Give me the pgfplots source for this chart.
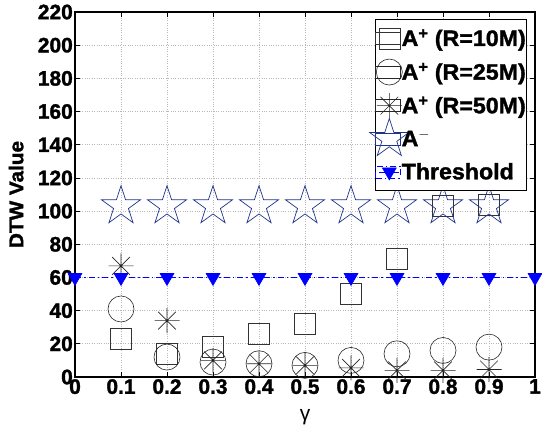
\documentclass[border=0pt]{standalone}
\usepackage{fontspec}
\setmainfont[BoldFeatures={FakeBold=1.5, FakeStretch=1.04}]{Liberation Sans}
\newfontface\tickface[FakeBold=1.5]{Liberation Sans Bold}
\newcommand\tf{\tickface\fontsize{21}{23}\selectfont}
\usepackage{pgfplots}
\pgfplotsset{compat=1.18}
\definecolor{starblue}{rgb}{0.12,0.2,0.55}
\definecolor{gridgray}{rgb}{0.72,0.72,0.72}
\pgfdeclareplotmark{mstar}{%
  \pgfpathmoveto{\pgfqpoint{-\pgfplotmarksize}{0pt}}\pgfpathlineto{\pgfqpoint{\pgfplotmarksize}{0pt}}%
  \pgfpathmoveto{\pgfqpoint{0pt}{-\pgfplotmarksize}}\pgfpathlineto{\pgfqpoint{0pt}{\pgfplotmarksize}}%
  \pgfpathmoveto{\pgfqpoint{-0.707\pgfplotmarksize}{-0.707\pgfplotmarksize}}\pgfpathlineto{\pgfqpoint{0.707\pgfplotmarksize}{0.707\pgfplotmarksize}}%
  \pgfpathmoveto{\pgfqpoint{-0.707\pgfplotmarksize}{0.707\pgfplotmarksize}}\pgfpathlineto{\pgfqpoint{0.707\pgfplotmarksize}{-0.707\pgfplotmarksize}}%
  \pgfusepathqstroke}
\pgfdeclareplotmark{pstar}{%
  \pgfpathmoveto{\pgfqpointpolar{90}{\pgfplotmarksize}}%
  \pgfpathlineto{\pgfqpointpolar{126}{0.382\pgfplotmarksize}}%
  \pgfpathlineto{\pgfqpointpolar{162}{\pgfplotmarksize}}%
  \pgfpathlineto{\pgfqpointpolar{198}{0.382\pgfplotmarksize}}%
  \pgfpathlineto{\pgfqpointpolar{234}{\pgfplotmarksize}}%
  \pgfpathlineto{\pgfqpointpolar{270}{0.382\pgfplotmarksize}}%
  \pgfpathlineto{\pgfqpointpolar{306}{\pgfplotmarksize}}%
  \pgfpathlineto{\pgfqpointpolar{342}{0.382\pgfplotmarksize}}%
  \pgfpathlineto{\pgfqpointpolar{18}{\pgfplotmarksize}}%
  \pgfpathlineto{\pgfqpointpolar{54}{0.382\pgfplotmarksize}}%
  \pgfpathclose
  \pgfusepathqstroke}
\begin{document}
\begin{tikzpicture}
\begin{axis}[
  scale only axis, width=460bp, height=365bp,
  xmin=0, xmax=1, ymin=0, ymax=220,
  xtick={0,0.1,0.2,0.3,0.4,0.5,0.6,0.7,0.8,0.9,1},
  xticklabels={\mbox{\tf 0},\mbox{\tf 0.1},\mbox{\tf 0.2},\mbox{\tf 0.3},\mbox{\tf 0.4},\mbox{\tf 0.5},\mbox{\tf 0.6},\mbox{\tf 0.7},\mbox{\tf 0.8},\mbox{\tf 0.9},\mbox{\tf 1}},
  ytick={0,20,40,60,80,100,120,140,160,180,200,220},
  yticklabels={\mbox{\tf 0},\mbox{\tf 20},\mbox{\tf 40},\mbox{\tf 60},\mbox{\tf 80},\mbox{\tf 100},\mbox{\tf 120},\mbox{\tf 140},\mbox{\tf 160},\mbox{\tf 180},\mbox{\tf 200},\mbox{\tf 220}},
  /pgf/number format/assume math mode=true,
  tick label style={font=\tf},
  x tick label style={inner sep=1bp, yshift=-1bp},
  y tick label style={inner sep=2bp},
  tick align=inside, major tick length=5bp,
  tick style={black, line width=0.8bp},
  axis line style={line width=1.2bp},
  grid=major, grid style={gridgray, dotted, line width=0.7bp},
  xlabel={γ}, xlabel style={font=\fontsize{21}{23}\selectfont, at={(axis description cs:0.5,0)}, anchor=north, yshift=-29bp},
  ylabel={DTW Value}, ylabel style={font=\fontsize{20}{22}\selectfont\bfseries, at={(axis description cs:-0.128,0.5)}, anchor=center},
  legend style={at={(rel axis cs:0.983,0.981)}, anchor=north east, draw=black, line width=0.8bp,
    font=\fontsize{22.4}{24}\selectfont\bfseries, inner xsep=0bp, inner ysep=8bp,
    row sep=11.5bp, /tikz/every even column/.append style={column sep=0bp},
    nodes={inner xsep=1bp}},
  legend image code/.code={%
    \path (0bp,-6bp) rectangle (25bp,6bp);
    \draw[#1, overlay, mark indices={2}] plot coordinates {(4bp,0bp) (14bp,0bp) (24bp,0bp)};},
  legend cell align=left,
  clip=false,
]
\addplot[only marks, mark=square, mark size=10.5bp, draw=black!80, line width=0.6bp] coordinates {
(0.1,23) (0.2,14) (0.3,18) (0.4,26) (0.5,32) (0.6,50) (0.7,71) (0.8,103) (0.9,104)};
\addlegendentry{A\textsuperscript{+} (R=10M)}
\addplot[only marks, mark=o, mark size=13bp, draw=black!85, line width=0.6bp] coordinates {
(0.1,41) (0.2,12) (0.3,9) (0.4,8) (0.5,7) (0.6,10) (0.7,14) (0.8,16) (0.9,18)};
\addlegendentry{A\textsuperscript{+} (R=25M)}
\addplot[only marks, mark=mstar, mark size=12.5bp, draw=black!85, line width=0.6bp] coordinates {
(0.1,67) (0.2,34) (0.3,10) (0.4,8) (0.5,7) (0.6,5.5) (0.7,4) (0.8,4) (0.9,4.5)};
\addlegendentry{A\textsuperscript{+} (R=50M)}
\addplot[only marks, mark=pstar, mark size=20.5bp, draw=starblue, line width=0.7bp] coordinates {
(0.1,103) (0.2,103) (0.3,103) (0.4,103) (0.5,103) (0.6,103) (0.7,103) (0.8,103) (0.9,103)};
\addlegendentry{A\textsuperscript{$-$}}
\addplot[blue, dash pattern=on 6bp off 3bp on 1.5bp off 3bp, line width=0.6bp, mark=triangle*, mark size=8bp, mark options={solid, fill=blue, rotate=180}] coordinates {
(0,60) (0.1,60) (0.2,60) (0.3,60) (0.4,60) (0.5,60) (0.6,60) (0.7,60) (0.8,60) (0.9,60) (1,60)};
\addlegendentry{Threshold}
\end{axis}
\pgfresetboundingbox
\useasboundingbox (-75bp,-52bp) rectangle (467bp,377bp);
\end{tikzpicture}
\end{document}
